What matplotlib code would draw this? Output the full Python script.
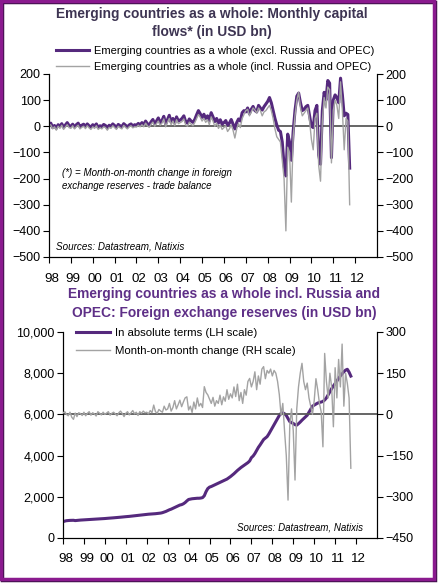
import matplotlib
matplotlib.use("Agg")
import matplotlib.pyplot as plt
import matplotlib.transforms as mtransforms
import numpy as np
from matplotlib.patches import Rectangle

plt.rcParams['font.family'] = ['Liberation Sans', 'DejaVu Sans']

# ---- data (USD bn, monthly, Jan 1998 - Oct 2011) ----
flows_excl = [
    10, 12, -5, 3, -8, 6, 0, 10, -4, 5, 14, 3,
    0, 8, -3, 6, 12, -2, 4, 8, -1, 9, 2, -4,
    6, 1, 9, -5, 2, -1, 7, 3, -7, 4, 0, 9,
    3, -5, 7, 2, -2, 10, 4, -3, 5, 9, 1, 6,
    4, 11, 5, 14, 6, 20, 10, 4, 17, 26, 9, 20,
    32, 14, 22, 38, 8, 25, 42, 16, 30, 12, 36, 20,
    24, 30, 40, 18, 12, 28, 20, 15, 26, 44, 60, 48,
    34, 46, 30, 40, 22, 52, 36, 18, 30, 12, 25, 8,
    14, 22, 4, 12, 26, 8, -10, 14, 28, 20, 52, 60,
    55, 70, 48, 65, 76, 60, 55, 80, 70, 62, 75, 85,
    95, 110, 90, 60, 30, 5, -15, -20, -60, -150, -190, -30,
    -60, -130, -20, 60, 115, 127, 90, 60, 65, 75, 80, 40,
    0, -5, 60, 80, -110, -145, 60, 130, 100, 175, 165, -120,
    100, 120, 110, 90, 184, 120, 40, 50, 45, -160,
]
flows_incl = [
    8, 5, -10, -2, -15, 0, -8, 4, -12, -3, 6, -5,
    -8, 2, -10, -2, 4, -10, -4, 0, -9, 2, -6, -12,
    -2, -8, 2, -12, -6, -10, -2, -5, -15, -4, -8, 2,
    -5, -12, 0, -6, -10, 3, -4, -10, -2, 2, -6, -2,
    -3, 4, -2, 6, -2, 12, 2, -4, 8, 16, 0, 10,
    20, 4, 12, 28, -2, 15, 30, 6, 20, 2, 25, 10,
    14, 18, 28, 5, 0, 16, 8, 2, 14, 30, 45, 35,
    20, 30, 15, 25, 6, 36, 20, 0, 12, -8, 5, -12,
    -5, 2, -20, -10, 5, -15, -45, -10, 10, -5, 30, 45,
    60, 65, 40, 55, 70, 62, 50, 70, 60, 40, 55, 60,
    70, 80, 60, 30, -10, -40, -50, -60, -130, -200, -400, -80,
    -100, -290, -40, 40, 100, 130, 70, 40, 50, 60, 70, 20,
    -50, -90, 30, 50, -150, -210, 20, 110, 70, 150, 140, -140,
    60, 100, 80, 30, 170, 60, -90, 30, 20, -300,
]
reserves_level = [
    790, 820, 840, 850, 855, 860, 860, 845, 855, 865, 870, 875,
    875, 880, 885, 890, 895, 900, 905, 910, 915, 925, 930, 940,
    945, 955, 960, 965, 970, 980, 990, 995, 1000, 1010, 1020, 1030,
    1035, 1040, 1050, 1060, 1070, 1080, 1090, 1100, 1110, 1120, 1130, 1140,
    1150, 1155, 1160, 1165, 1170, 1180, 1190, 1200, 1210, 1230, 1260, 1290,
    1330, 1370, 1400, 1440, 1480, 1520, 1560, 1600, 1620, 1660, 1720, 1800,
    1870, 1890, 1905, 1915, 1925, 1930, 1930, 1940, 1960, 2050, 2250, 2400,
    2470, 2500, 2540, 2580, 2620, 2660, 2700, 2740, 2780, 2820, 2860, 2920,
    2980, 3050, 3120, 3200, 3280, 3350, 3420, 3480, 3540, 3600, 3660, 3740,
    3900, 3980, 4100, 4250, 4400, 4520, 4650, 4780, 4850, 4920, 5050, 5200,
    5350, 5500, 5650, 5800, 5950, 6050, 6080, 6030, 5950, 5800, 5650, 5600,
    5560, 5500, 5480, 5550, 5630, 5720, 5800, 5880, 5960, 6100, 6250, 6400,
    6450, 6500, 6550, 6580, 6600, 6630, 6700, 6800, 6950, 7100, 7250, 7380,
    7500, 7620, 7750, 7870, 7970, 8070, 8150, 8190, 8050, 7860,
]
reserves_change = [
    5, 10, 0, -5, 8, -10, -18, 5, -8, 6, 3, -4,
    8, -5, 4, 10, -3, 6, 2, -6, 10, 4, -2, 8,
    0, 5, 10, -3, 4, 8, 2, -5, 6, 12, 3, -8,
    4, 10, -2, 6, 14, 2, 8, -4, 10, 4, 12, 6,
    8, 2, 14, 6, 34, 10, 4, 18, 12, 8, 30, 16,
    20, 40, 12, 25, 50, 20, 35, 52, 28, 45, 60, 64,
    16, 30, 7, 45, 20, 60, 30, 40, 25, 101, 80, 71,
    55, 40, 62, 30, 50, 40, 70, 35, 64, 48, 90, 55,
    75, 60, 100, 65, 110, 50, 80, 40, 90, 70, 120, 131,
    100, 120, 155, 90, 140, 110, 165, 174, 130, 160, 150, 165,
    140, 160, 150, 120, 72, -3, 40, -60, -150, -312, -39, 20,
    -60, -239, 20, 100, 150, 186, 120, 90, 114, 60, 30, 0,
    50, 130, 90, 40, 10, -118, 222, 120, 60, 150, 100, -45,
    170, 60, 200, 100, 256, 30, 150, 113, 60, -196,
]
year_labels = ['98', '99', '00', '01', '02', '03', '04', '05', '06', '07',
               '08', '09', '10', '11', '12']

purple = '#55297d'
grey = '#a3a3a3'
dark = '#595959'

n = len(flows_excl)
x = 1998 + np.arange(n) / 12.0
years = 1998 + np.arange(len(year_labels))

fig = plt.figure(figsize=(4.39, 5.84), dpi=100)
shift = mtransforms.ScaledTranslation(2.5 / 100, 0, fig.dpi_scale_trans)


def style_axes(ax, ax2, xpad):
    for a in (ax, ax2):
        a.spines['top'].set_visible(False)
        for s in a.spines.values():
            s.set_color('black')
            s.set_linewidth(0.8)
        a.tick_params(axis='y', labelsize=9, length=4, width=0.8, direction='out', pad=2)
    ax.set_xlim(1998, 2013)
    ax.set_xticks(years)
    ax.set_xticklabels(year_labels)
    ax.tick_params(axis='x', labelsize=9.6, length=4, width=0.8, pad=xpad)
    for lab in ax.get_xticklabels():
        lab.set_transform(lab.get_transform() + shift)


# ---------- top chart ----------
ax = fig.add_axes([49 / 439, 1 - 257 / 584, 328 / 439, 183 / 584])
ax2 = ax.twinx()
ax.plot(x, flows_excl, color=purple, lw=2.2, zorder=3,
        label='Emerging countries as a whole (excl. Russia and OPEC)')
ax.plot(x, flows_incl, color=grey, lw=1.0, zorder=4,
        label='Emerging countries as a whole (incl. Russia and OPEC)')
ax.axhline(0, color=dark, lw=1.3, zorder=2)
ax.set_ylim(-500, 200)
ax.set_yticks(range(-500, 201, 100))
ax2.set_ylim(-500, 200)
ax2.set_yticks(range(-500, 201, 100))
style_axes(ax, ax2, 7.2)

ax.legend(loc='upper left', bbox_to_anchor=(55.5 / 439, 1 - 46 / 584),
          bbox_transform=fig.transFigure, frameon=False,
          fontsize=8.0, handlelength=3.0, handletextpad=0.5, labelspacing=0.55,
          borderaxespad=0, borderpad=0)
ax.text(0.04, 0.488, "(*) = Month-on-month change in foreign\nexchange reserves - trade balance",
        transform=ax.transAxes, fontsize=7.0, style='italic', va='top', linespacing=1.45)
ax.text(0.02, 0.03, "Sources: Datastream, Natixis", transform=ax.transAxes,
        fontsize=7.1, style='italic', va='bottom')

fig.text(212 / 439, 1 - 23 / 584, "Emerging countries as a whole: Monthly capital\nflows* (in USD bn)",
         ha='center', va='center', fontsize=9.9, fontweight='bold', color='#3d3452',
         linespacing=1.32)

# ---------- bottom chart ----------
bx = fig.add_axes([63 / 439, 1 - 538 / 584, 314 / 439, 206 / 584])
bx2 = bx.twinx()
bx.plot(x, reserves_level, color=purple, lw=2.2, zorder=3,
        label='In absolute terms (LH scale)')
bx2.plot(x, reserves_change, color=grey, lw=1.0, zorder=3,
         label='Month-on-month change (RH scale)')
bx2.axhline(0, color=dark, lw=1.3, zorder=2)
bx.set_ylim(0, 10000)
bx.set_yticks(range(0, 10001, 2000))
bx.set_yticklabels([f'{v:,}' for v in range(0, 10001, 2000)])
bx2.set_ylim(-450, 300)
bx2.set_yticks(range(-450, 301, 150))
style_axes(bx, bx2, 6.8)

h1, l1 = bx.get_legend_handles_labels()
h2, l2 = bx2.get_legend_handles_labels()
bx2.legend(h1 + h2, l1 + l2, loc='upper left', bbox_to_anchor=(0.04, 1.02),
           frameon=False, fontsize=8.2, handlelength=3.0, handletextpad=0.5,
           labelspacing=0.72, borderaxespad=0, borderpad=0)
bx2.text(0.955, 0.028, "Sources: Datastream, Natixis", transform=bx2.transAxes,
         fontsize=7.0, style='italic', ha='right', va='bottom')

fig.text(224 / 439, 1 - 303.5 / 584,
         "Emerging countries as a whole incl. Russia and\nOPEC: Foreign exchange reserves (in USD bn)",
         ha='center', va='center', fontsize=9.9, fontweight='bold', color='#5e2f87',
         linespacing=1.4)

# ---------- frame ----------
fig.patches.append(Rectangle((2 / 439, 4 / 584), 433 / 439, 578 / 584,
                             transform=fig.transFigure, fill=False,
                             edgecolor='#3c0f48', lw=2.5, zorder=9))
fig.patches.append(Rectangle((1 / 439, 5 / 584), 433 / 439, 578 / 584,
                             transform=fig.transFigure, fill=False,
                             edgecolor='#8a1a8e', lw=2.5, zorder=10))

fig.savefig('out.png', dpi=100)
